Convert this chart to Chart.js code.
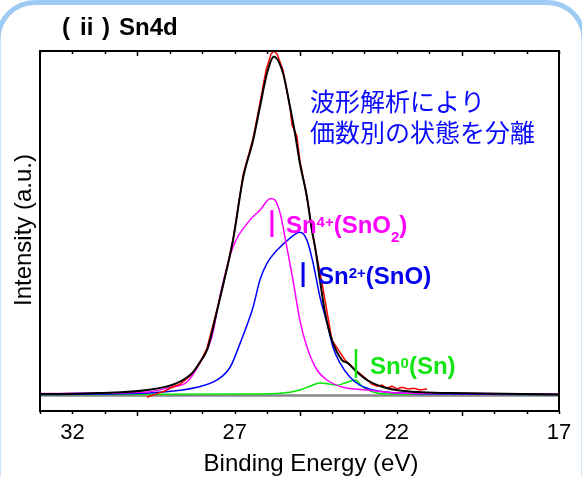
<!DOCTYPE html>
<html>
<head>
<meta charset="utf-8">
<script src="https://cdn.jsdelivr.net/npm/chart.js@4.4.0/dist/chart.umd.min.js"></script>
<style>
  html, body { margin: 0; padding: 0; background: #fff; }
</style>
</head>
<body>
<canvas id="xpsChart" width="582" height="477"></canvas>
<script>
// Tick labels (binding energy, eV)
const tickLabels = [32, 27, 22, 17];

// Measured spectrum (red)
const dataEnergy = [29.70, 29.45, 29.15, 28.99, 28.68, 28.38, 28.07, 27.85, 27.61, 27.39, 27.05, 26.74, 26.43, 26.22, 26.03, 25.88, 25.79, 25.69, 25.51, 25.29, 25.23, 25.08, 24.99, 24.77, 24.52, 24.31, 24.0, 23.60, 23.23, 22.98, 22.77, 22.61, 22.46, 22.30, 22.15, 22.0, 21.84, 21.66, 21.47, 21.29, 21.07];
const dataIntensity = [-0.5, 0.4, 1.3, 2.1, 3.3, 5.6, 9.4, 13.8, 22.5, 30.6, 45.1, 64.0, 74.7, 84.9, 94.5, 99.1, 100, 99.1, 94.5, 83.4, 78.5, 75.3, 68.3, 57.6, 42.8, 32.9, 16.1, 10.3, 7.1, 5.1, 3.3, 2.7, 3.0, 2.1, 2.7, 1.9, 2.4, 1.9, 2.1, 1.6, 1.9];

// Fitted envelope (black)
const fitEnergy = [33.0, 31.15, 29.70, 28.78, 28.28, 28.07, 27.85, 27.61, 27.45, 27.05, 26.74, 26.43, 26.22, 26.0, 25.79, 25.51, 25.29, 25.14, 24.99, 24.77, 24.62, 24.52, 24.37, 24.21, 24.0, 23.69, 23.51, 23.23, 22.92, 22.30, 21.38, 20.36, 17.0];
const fitIntensity = [0.4, 0.7, 1.6, 3.6, 6.8, 9.7, 13.2, 21.9, 28.3, 45.1, 63.1, 74.1, 83.7, 93.6, 98.3, 93.6, 83.7, 76.2, 67.5, 57.6, 48.0, 43.1, 33.5, 23.9, 16.1, 10.3, 9.4, 6.8, 4.5, 2.1, 1.0, 0.7, 0.3];

// Sn4+ component (magenta)
const sn4Energy = [33.0, 31.24, 29.70, 28.99, 28.47, 28.07, 27.70, 27.45, 27.05, 26.53, 26.22, 25.89, 25.75, 25.60, 25.39, 25.20, 24.99, 24.77, 24.46, 24.15, 23.66, 22.92, 21.90, 20.36, 17.0];
const sn4Intensity = [0.55, 0.7, 1.0, 2.4, 3.9, 9.5, 17.0, 29.0, 43.1, 50.9, 53.8, 57.2, 56.7, 53.0, 43.1, 33.5, 21.9, 14.1, 7.4, 4.5, 2.4, 1.6, 0.7, 0.55, 0.4];

// Sn2+ component (blue)
const sn2Energy = [33.0, 31.24, 29.21, 28.16, 27.54, 27.14, 26.83, 26.43, 26.22, 26.0, 25.69, 25.29, 24.99, 24.77, 24.58, 24.37, 24.15, 23.97, 23.75, 23.44, 23.14, 22.73, 21.90, 20.36, 17.0];
const sn2Intensity = [0.3, 0.4, 1.0, 2.4, 4.5, 8.2, 15.2, 25.7, 33.5, 38.4, 42.2, 45.7, 47.4, 45.1, 38.4, 28.6, 21.0, 14.1, 9.4, 5.3, 3.0, 1.6, 0.7, 0.4, 0.3];

// Sn0 component (green)
const sn0Energy = [33.0, 26.53, 25.51, 24.99, 24.68, 24.37, 24.06, 23.84, 23.60, 23.29, 23.04, 22.73, 22.30, 17.0];
const sn0Intensity = [0.3, 0.4, 0.7, 1.6, 2.7, 3.6, 3.3, 3.0, 3.6, 4.5, 2.4, 1.0, 0.4, 0.3];

// Background (gray)
const bgEnergy = [33.0, 17.0];
const bgIntensity = [0, 0];

// Peak positions marked with a bar
const peakEnergy = [25.85, 24.89, 23.26];

function toPoints(xs, ys) {
    return xs.map((x, i) => ({ x: x, y: ys[i] }));
}

const sansFont = '"Liberation Sans", Arial, sans-serif';
const jpFont = '"Noto Sans CJK JP", "Noto Sans", sans-serif';

// Draw text with superscript / subscript parts
function drawRich(ctx, x, y, parts, color) {
    ctx.fillStyle = color;
    ctx.textAlign = 'left';
    ctx.textBaseline = 'alphabetic';
    parts.forEach(p => {
        let dy = 0;
        if (p.sup) { ctx.font = 'bold 15px ' + sansFont; dy = -6; }
        else if (p.sub) { ctx.font = 'bold 15px ' + sansFont; dy = 9; }
        else { ctx.font = 'bold 24px ' + sansFont; }
        ctx.fillText(p.t, x, y + dy);
        x += ctx.measureText(p.t).width;
    });
}

const decorPlugin = {
    id: 'decor',
    beforeDraw(chart) {
        const ctx = chart.ctx;
        ctx.save();
        ctx.fillStyle = '#fff';
        ctx.fillRect(0, 0, chart.width, chart.height);
        // light blue rounded panel border
        const x0 = -2, y0 = 2.5, w = 586, h = 600, r = 37;
        ctx.strokeStyle = '#9ecbf4';
        ctx.lineWidth = 5;
        ctx.beginPath();
        ctx.moveTo(x0 + r, y0);
        ctx.lineTo(x0 + w - r, y0);
        ctx.arcTo(x0 + w, y0, x0 + w, y0 + r, r);
        ctx.lineTo(x0 + w, y0 + h);
        ctx.moveTo(x0, y0 + h);
        ctx.lineTo(x0, y0 + r);
        ctx.arcTo(x0, y0, x0 + r, y0, r);
        ctx.stroke();
        ctx.restore();
    },
    afterDatasetsDraw(chart) {
        const ctx = chart.ctx;
        const a = chart.chartArea;
        const xs = chart.scales.x;
        const ys = chart.scales.y;
        ctx.save();

        // plot frame
        ctx.strokeStyle = '#000';
        ctx.lineWidth = 2;
        ctx.strokeRect(a.left, a.top, a.right - a.left, a.bottom - a.top);

        // tick marks: top inward, bottom outward
        ctx.lineWidth = 1.5;
        ctx.beginPath();
        for (let v = 17; v <= 33; v++) {
            const px = Math.round(xs.getPixelForValue(v)) + 0.5;
            const len = v % 5 === 0 ? 5 : 3;
            ctx.moveTo(px, a.top);
            ctx.lineTo(px, a.top + len);
            ctx.moveTo(px, a.bottom);
            ctx.lineTo(px, a.bottom + len);
        }
        ctx.stroke();

        // peak markers and labels
        const bars = [
            { ev: peakEnergy[0], top: 53.8, bottom: 46.0, base: 47.1, dx: 14, color: '#ff00ff', w: 3,
              parts: [{ t: 'Sn' }, { t: '4+', sup: true }, { t: '(SnO' }, { t: '2', sub: true }, { t: ')' }] },
            { ev: peakEnergy[1], top: 38.7, bottom: 31.5, base: 32.3, dx: 15, color: '#0000ee', w: 3,
              parts: [{ t: 'Sn' }, { t: '2+', sup: true }, { t: '(SnO)' }] },
            { ev: peakEnergy[2], top: 13.5, bottom: 5.1, base: 6.2, dx: 14, color: '#14e614', w: 2.5,
              parts: [{ t: 'Sn' }, { t: '0', sup: true }, { t: '(Sn)' }] }
        ];
        bars.forEach(b => {
            const bx = xs.getPixelForValue(b.ev);
            ctx.strokeStyle = b.color;
            ctx.lineWidth = b.w;
            ctx.beginPath();
            ctx.moveTo(bx, ys.getPixelForValue(b.top));
            ctx.lineTo(bx, ys.getPixelForValue(b.bottom));
            ctx.stroke();
            drawRich(ctx, bx + b.dx, ys.getPixelForValue(b.base), b.parts, b.color);
        });

        // note in Japanese
        ctx.fillStyle = '#0a0aff';
        ctx.font = '25px ' + jpFont;
        ctx.textAlign = 'left';
        ctx.textBaseline = 'middle';
        ctx.fillText('波形解析により', 310, 101);
        ctx.fillText('価数別の状態を分離', 310, 132);

        // panel title
        ctx.fillStyle = '#000';
        ctx.font = 'bold 24px ' + sansFont;
        ctx.textBaseline = 'alphabetic';
        ctx.fillText('(', 62, 35);
        ctx.fillText('ii', 80, 35);
        ctx.fillText(')', 102, 35);
        ctx.fillText('Sn4d', 119, 35);

        // axis titles
        ctx.font = '24px ' + sansFont;
        ctx.textAlign = 'center';
        ctx.textBaseline = 'middle';
        ctx.fillText('Binding Energy (eV)', 311, 464);
        ctx.translate(24, 230);
        ctx.rotate(-Math.PI / 2);
        ctx.fillText('Intensity (a.u.)', 0, 0);

        ctx.restore();
    }
};

const ctx = document.getElementById('xpsChart').getContext('2d');

const xpsChart = new Chart(ctx, {
    type: 'line',
    data: {
        datasets: [
            {
                label: 'Fit',
                data: toPoints(fitEnergy, fitIntensity),
                borderColor: '#000000',
                borderWidth: 2,
                cubicInterpolationMode: 'monotone',
                pointRadius: 0
            },
            {
                label: 'Measured',
                data: toPoints(dataEnergy, dataIntensity),
                borderColor: '#ff0000',
                borderWidth: 1.5,
                tension: 0,
                pointRadius: 0
            },
            {
                label: 'Sn4+',
                data: toPoints(sn4Energy, sn4Intensity),
                borderColor: '#ff00ff',
                borderWidth: 1.5,
                cubicInterpolationMode: 'monotone',
                pointRadius: 0
            },
            {
                label: 'Sn2+',
                data: toPoints(sn2Energy, sn2Intensity),
                borderColor: '#0000ff',
                borderWidth: 1.5,
                cubicInterpolationMode: 'monotone',
                pointRadius: 0
            },
            {
                label: 'Sn0',
                data: toPoints(sn0Energy, sn0Intensity),
                borderColor: '#00e600',
                borderWidth: 1.5,
                cubicInterpolationMode: 'monotone',
                pointRadius: 0
            },
            {
                label: 'Background',
                data: toPoints(bgEnergy, bgIntensity),
                borderColor: '#888888',
                borderWidth: 2.5,
                pointRadius: 0
            }
        ]
    },
    options: {
        responsive: false,
        animation: false,
        layout: {
            padding: { left: 40, right: 23, top: 51, bottom: 0 }
        },
        plugins: {
            legend: { display: false },
            tooltip: { enabled: false }
        },
        scales: {
            x: {
                type: 'linear',
                reverse: true,
                min: 17,
                max: 33,
                afterFit: function(scale) {
                    scale.height = 66;
                },
                grid: { display: false, drawTicks: false },
                border: { display: false },
                ticks: {
                    stepSize: 1,
                    autoSkip: false,
                    maxRotation: 0,
                    padding: 9,
                    color: '#000',
                    font: { family: sansFont, size: 22 },
                    callback: function(value) {
                        return tickLabels.includes(value) ? String(value) : '';
                    }
                }
            },
            y: {
                display: false,
                min: -4.5,
                max: 100
            }
        }
    },
    plugins: [decorPlugin]
});
</script>
</body>
</html>
